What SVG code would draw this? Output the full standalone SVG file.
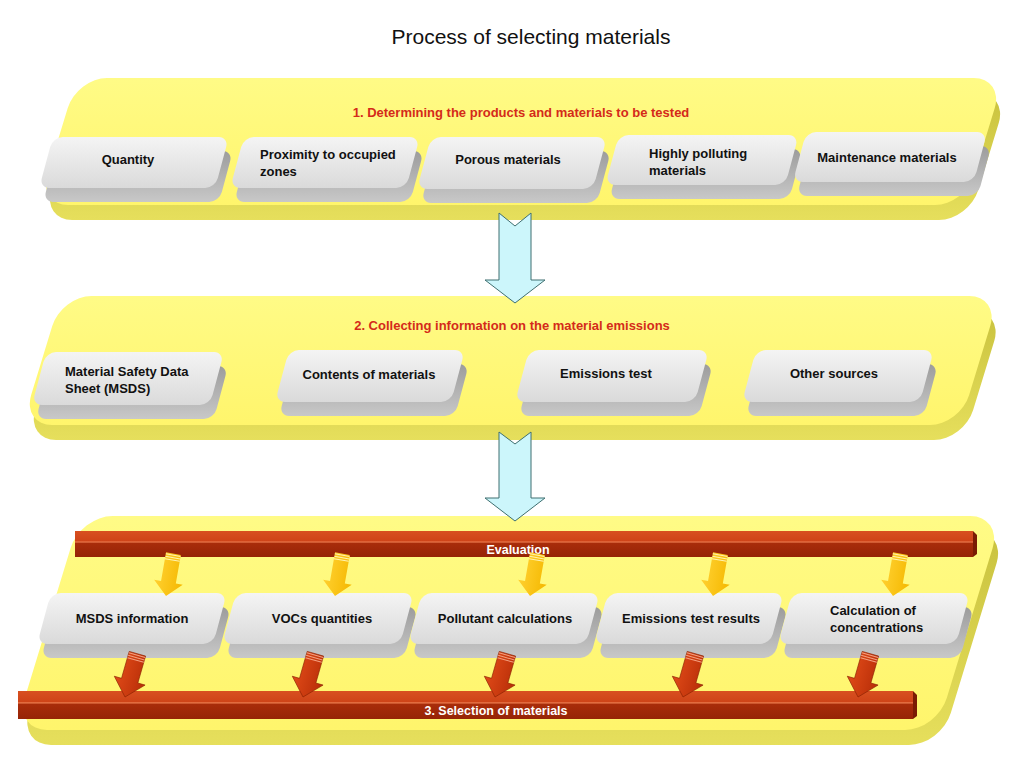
<svg xmlns="http://www.w3.org/2000/svg" xmlns:xlink="http://www.w3.org/1999/xlink" width="1024" height="768" viewBox="0 0 1024 768">
<defs>
<linearGradient id="gFace" x1="0" y1="0" x2="0" y2="1"><stop offset="0" stop-color="#fffb86"/><stop offset="1" stop-color="#fff56c"/></linearGradient>
<linearGradient id="gSide" x1="0" y1="0" x2="0" y2="1"><stop offset="0" stop-color="#c9c23e"/><stop offset="1" stop-color="#e6df5c"/></linearGradient>
<linearGradient id="gBox" x1="0" y1="0" x2="0" y2="1"><stop offset="0" stop-color="#f4f4f4"/><stop offset="1" stop-color="#dadada"/></linearGradient>
<linearGradient id="gBoxSide" x1="0" y1="0" x2="0" y2="1"><stop offset="0" stop-color="#9c9c9c"/><stop offset="1" stop-color="#c8c8c8"/></linearGradient>
<linearGradient id="gBar" x1="0" y1="0" x2="0" y2="1"><stop offset="0" stop-color="#d85020"/><stop offset="0.38" stop-color="#cf4418"/><stop offset="0.42" stop-color="#e8774a"/><stop offset="0.48" stop-color="#a82c0a"/><stop offset="1" stop-color="#962406"/></linearGradient>
<linearGradient id="gY" x1="0" y1="0" x2="1" y2="0"><stop offset="0" stop-color="#ffd030"/><stop offset="1" stop-color="#f5b800"/></linearGradient>
<linearGradient id="gR" x1="0" y1="0" x2="1" y2="0"><stop offset="0" stop-color="#e04a18"/><stop offset="1" stop-color="#b82e08"/></linearGradient>
<g id="yArrow">
<path d="M-7.5,-43 L7.5,-43 L7.5,-14 L14.5,-14 L0,0 L-14.5,-14 L-7.5,-14 Z" fill="url(#gY)"/>
<path d="M-7.5,-41.5 H7.5 M-7.5,-39 H7.5 M-7.5,-36.5 H7.5" stroke="#fff3b0" stroke-width="1"/>
</g>
<g id="rArrow">
<path d="M-8.5,-45 L8.5,-45 L8.5,-17 L16,-17 L0,0 L-16,-17 L-8.5,-17 Z" fill="url(#gR)" stroke="#8a2000" stroke-width="0.6"/>
<path d="M-8.5,-43.5 H8.5 M-8.5,-41 H8.5 M-8.5,-38.5 H8.5" stroke="#f4a080" stroke-width="1"/>
</g>
</defs>
<style>
.pface{fill:url(#gFace)}
.pside{fill:url(#gSide)}
.bface{fill:url(#gBox)}
.bside{fill:url(#gBoxSide)}
.bhl{fill:none;stroke:#ffffff;stroke-width:1.2;opacity:0.9}
.lbl{font-family:"Liberation Sans",Arial,sans-serif;font-weight:bold;font-size:13px;fill:#111}
.hdr{font-family:"Liberation Sans",Arial,sans-serif;font-weight:bold;font-size:13px;fill:#d42a1a}
.bartxt{font-family:"Liberation Sans",Arial,sans-serif;font-weight:bold;font-size:12.5px;fill:#ffffff}
.title{font-family:"Liberation Sans",Arial,sans-serif;font-size:21px;fill:#111}
.blue{fill:#ccf6fb;stroke:#3f6f70;stroke-width:1}
</style>
<rect width="1024" height="768" fill="#ffffff"/>
<text class="title" x="531" y="44" text-anchor="middle">Process of selecting materials</text>

<!-- Panel 1 -->
<g id="panel1">
<rect class="pside" x="-463.5" y="-63.5" width="927" height="127" rx="30" transform="translate(525,156.5) skewX(-17)"/>
<rect class="pface" x="-463.5" y="-63.5" width="927" height="127" rx="30" transform="translate(521,141.5) skewX(-17)"/>
<text class="hdr" x="521" y="117" text-anchor="middle">1. Determining the products and materials to be tested</text>
</g>
<g id="p1-quantity">
<rect class="bside" x="-88" y="-25.5" width="176" height="51" rx="10" transform="translate(138,176.5) skewX(-15)"/>
<rect class="bface" x="-88" y="-25.5" width="176" height="51" rx="10" transform="translate(134,162.5) skewX(-15)"/>
<text class="lbl" x="128" y="164" text-anchor="middle">Quantity</text>
</g>
<g id="p1-proximity">
<rect class="bside" x="-88" y="-25.5" width="176" height="51" rx="10" transform="translate(329,176.5) skewX(-15)"/>
<rect class="bface" x="-88" y="-25.5" width="176" height="51" rx="10" transform="translate(325,162.5) skewX(-15)"/>
<text class="lbl" x="260" y="159">Proximity to occupied</text>
<text class="lbl" x="260" y="176">zones</text>
</g>
<g id="p1-porous">
<rect class="bside" x="-88" y="-26" width="176" height="52" rx="10" transform="translate(516,177) skewX(-15)"/>
<rect class="bface" x="-88" y="-26" width="176" height="52" rx="10" transform="translate(512,163) skewX(-15)"/>
<text class="lbl" x="508" y="164" text-anchor="middle">Porous materials</text>
</g>
<g id="p1-polluting">
<rect class="bside" x="-90" y="-25" width="180" height="50" rx="10" transform="translate(706,174) skewX(-15)"/>
<rect class="bface" x="-90" y="-25" width="180" height="50" rx="10" transform="translate(702,160) skewX(-15)"/>
<text class="lbl" x="649" y="158">Highly polluting</text>
<text class="lbl" x="649" y="175">materials</text>
</g>
<g id="p1-maintenance">
<rect class="bside" x="-90.5" y="-25" width="181" height="50" rx="10" transform="translate(894,171) skewX(-15)"/>
<rect class="bface" x="-90.5" y="-25" width="181" height="50" rx="10" transform="translate(890,157) skewX(-15)"/>
<text class="lbl" x="887" y="162" text-anchor="middle">Maintenance materials</text>
</g>

<!-- Panel 2 -->
<g id="panel2">
<rect class="pside" x="-469" y="-64.5" width="938" height="129" rx="30" transform="translate(514.7,375.5) skewX(-17)"/>
<rect class="pface" x="-469" y="-64.5" width="938" height="129" rx="30" transform="translate(510.7,360.5) skewX(-17)"/>
<text class="hdr" x="512" y="330" text-anchor="middle">2. Collecting information on the material emissions</text>
</g>
<g id="p2-msds">
<rect class="bside" x="-89" y="-26.5" width="178" height="53" rx="10" transform="translate(132,392.5) skewX(-15)"/>
<rect class="bface" x="-89" y="-26.5" width="178" height="53" rx="10" transform="translate(128,378.5) skewX(-15)"/>
<text class="lbl" x="65" y="376">Material Safety Data</text>
<text class="lbl" x="65" y="393">Sheet (MSDS)</text>
</g>
<g id="p2-contents">
<rect class="bside" x="-88" y="-26" width="176" height="52" rx="10" transform="translate(374,390) skewX(-15)"/>
<rect class="bface" x="-88" y="-26" width="176" height="52" rx="10" transform="translate(370,376) skewX(-15)"/>
<text class="lbl" x="369" y="379" text-anchor="middle">Contents of materials</text>
</g>
<g id="p2-emissions">
<rect class="bside" x="-90" y="-26" width="180" height="52" rx="10" transform="translate(616,390) skewX(-15)"/>
<rect class="bface" x="-90" y="-26" width="180" height="52" rx="10" transform="translate(612,376) skewX(-15)"/>
<text class="lbl" x="606" y="378" text-anchor="middle">Emissions test</text>
</g>
<g id="p2-other">
<rect class="bside" x="-89" y="-26" width="178" height="52" rx="10" transform="translate(842,390) skewX(-15)"/>
<rect class="bface" x="-89" y="-26" width="178" height="52" rx="10" transform="translate(838,376) skewX(-15)"/>
<text class="lbl" x="834" y="378" text-anchor="middle">Other sources</text>
</g>

<!-- Panel 3 -->
<g id="panel3">
<rect class="pside" x="-461" y="-107" width="922" height="214" rx="32" transform="translate(512.7,638) skewX(-17)"/>
<rect class="pface" x="-461" y="-107" width="922" height="214" rx="32" transform="translate(508.7,623) skewX(-17)"/>
</g>
<g id="bar-evaluation">
<rect x="75" y="531" width="898" height="26" fill="url(#gBar)"/>
<polygon points="973,531 977,535 977,554 973,557" fill="#7a1c04"/>
<text class="bartxt" x="518" y="554" text-anchor="middle">Evaluation</text>
</g>
<g id="p3-msds">
<rect class="bside" x="-88" y="-25.5" width="176" height="51" rx="10" transform="translate(136,632.5) skewX(-15)"/>
<rect class="bface" x="-88" y="-25.5" width="176" height="51" rx="10" transform="translate(132,618.5) skewX(-15)"/>
<text class="lbl" x="132" y="623" text-anchor="middle">MSDS information</text>
</g>
<g id="p3-vocs">
<rect class="bside" x="-89" y="-25.5" width="178" height="51" rx="10" transform="translate(322,632.5) skewX(-15)"/>
<rect class="bface" x="-89" y="-25.5" width="178" height="51" rx="10" transform="translate(318,618.5) skewX(-15)"/>
<text class="lbl" x="322" y="623" text-anchor="middle">VOCs quantities</text>
</g>
<g id="p3-pollutant">
<rect class="bside" x="-89" y="-25.5" width="178" height="51" rx="10" transform="translate(508,632.5) skewX(-15)"/>
<rect class="bface" x="-89" y="-25.5" width="178" height="51" rx="10" transform="translate(504,618.5) skewX(-15)"/>
<text class="lbl" x="505" y="623" text-anchor="middle">Pollutant calculations</text>
</g>
<g id="p3-results">
<rect class="bside" x="-88" y="-25.5" width="176" height="51" rx="10" transform="translate(693,632.5) skewX(-15)"/>
<rect class="bface" x="-88" y="-25.5" width="176" height="51" rx="10" transform="translate(689,618.5) skewX(-15)"/>
<text class="lbl" x="691" y="623" text-anchor="middle">Emissions test results</text>
</g>
<g id="p3-concentrations">
<rect class="bside" x="-89" y="-25.5" width="178" height="51" rx="10" transform="translate(878,632.5) skewX(-15)"/>
<rect class="bface" x="-89" y="-25.5" width="178" height="51" rx="10" transform="translate(874,618.5) skewX(-15)"/>
<text class="lbl" x="830" y="615">Calculation of</text>
<text class="lbl" x="830" y="632">concentrations</text>
</g>
<g id="bar-selection">
<rect x="18" y="691" width="895" height="28" fill="url(#gBar)"/>
<polygon points="913,691 917,695 917,716 913,719" fill="#7a1c04"/>
<text class="bartxt" x="496" y="715" text-anchor="middle">3. Selection of materials</text>
</g>

<!-- Connectors -->
<g id="connectors">
<path class="blue" d="M499,213 L515,226 L531,213 L531,280 L545,280 L515,303 L485,280 L499,280 Z"/>
<path class="blue" d="M499,432 L515,444 L531,432 L531,498 L545,498 L515,521 L485,498 L499,498 Z"/>
<use xlink:href="#yArrow" transform="translate(166,596) rotate(10)"/>
<use xlink:href="#yArrow" transform="translate(335,596) rotate(10)"/>
<use xlink:href="#yArrow" transform="translate(530,596) rotate(10)"/>
<use xlink:href="#yArrow" transform="translate(713,596) rotate(10)"/>
<use xlink:href="#yArrow" transform="translate(893,596) rotate(10)"/>
<use xlink:href="#rArrow" transform="translate(125,697) rotate(16)"/>
<use xlink:href="#rArrow" transform="translate(303,697) rotate(16)"/>
<use xlink:href="#rArrow" transform="translate(495,697) rotate(16)"/>
<use xlink:href="#rArrow" transform="translate(683,697) rotate(16)"/>
<use xlink:href="#rArrow" transform="translate(858,697) rotate(16)"/>
</g>
</svg>
